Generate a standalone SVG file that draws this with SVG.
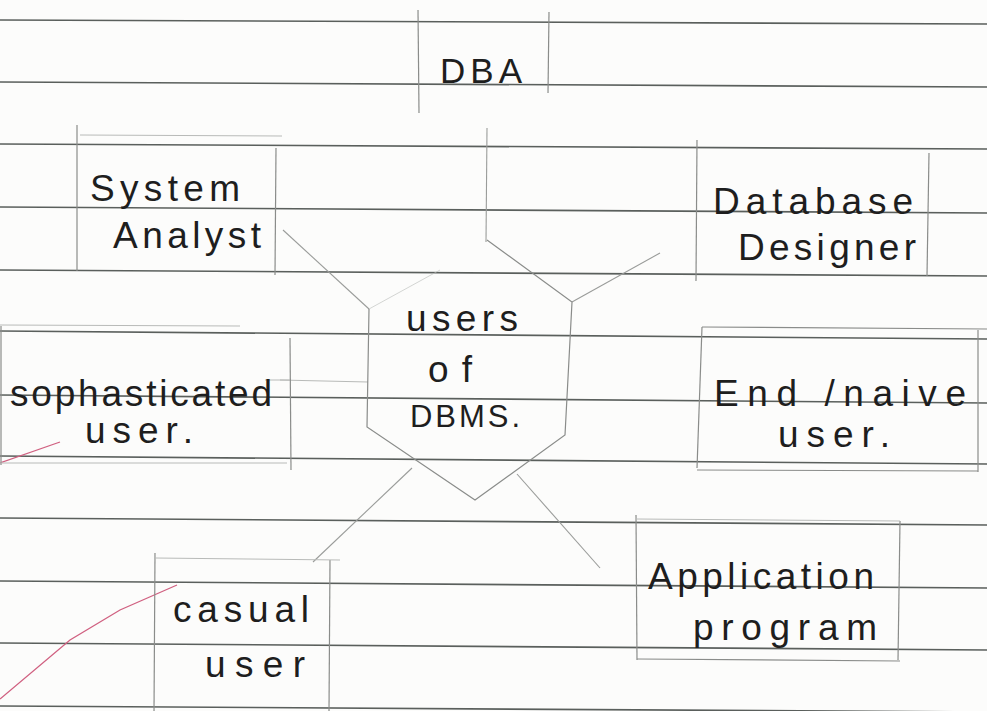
<svg xmlns="http://www.w3.org/2000/svg" width="987" height="711" viewBox="0 0 987 711">
<defs>
<style>
.paper{fill:#fcfcfb}
.rule{stroke:#5a5f5c;stroke-width:1.6;fill:none}
.box{stroke:#8a8c8a;stroke-width:1.2;fill:none}
.faint{stroke:#b8bab8;stroke-width:1;fill:none}
.conn{stroke:#9a9c9a;stroke-width:1.1;fill:none}
.pink{stroke:#d06080;stroke-width:1.3;fill:none}
.t{font-family:"Liberation Sans","DejaVu Sans",sans-serif;fill:#1e1e1e;font-size:37px}
</style>
</defs>
<rect class="paper" x="0" y="0" width="987" height="711"/>
<g id="ruled-lines">
<line class="rule" x1="0" y1="20" x2="987" y2="24"/>
<line class="rule" x1="0" y1="82" x2="987" y2="87"/>
<line class="rule" x1="0" y1="144" x2="987" y2="149"/>
<line class="rule" x1="0" y1="207" x2="987" y2="213"/>
<line class="rule" x1="0" y1="270" x2="987" y2="276"/>
<line class="rule" x1="0" y1="331" x2="987" y2="339"/>
<line class="rule" x1="0" y1="395" x2="987" y2="403"/>
<line class="rule" x1="0" y1="456" x2="987" y2="464"/>
<line class="rule" x1="0" y1="518" x2="987" y2="525"/>
<line class="rule" x1="0" y1="581" x2="987" y2="588"/>
<line class="rule" x1="0" y1="643" x2="987" y2="650"/>
<line class="rule" x1="0" y1="706" x2="987" y2="712"/>
</g>
<g id="margin">
<line class="pink" x1="0" y1="463" x2="60" y2="442"/>
<polyline class="pink" points="0,699 70,640 120,610 177,585"/>
</g>
<g id="connectors">
<line class="conn" x1="487" y1="128" x2="486" y2="242"/>
<line class="conn" x1="283" y1="230" x2="369" y2="309"/>
<line class="faint" x1="369" y1="309" x2="440" y2="270" stroke-opacity="0.6"/>
<line class="conn" x1="572" y1="302" x2="660" y2="253"/>
<line class="faint" x1="280" y1="380" x2="368" y2="382"/>
<line class="conn" x1="412" y1="468" x2="313" y2="562"/>
<line class="conn" x1="517" y1="474" x2="600" y2="568"/>
</g>
<g id="node-dba">
<line class="box" x1="418" y1="10" x2="419" y2="113"/>
<line class="box" x1="549" y1="12" x2="548" y2="93"/>
<text class="t" x="440" y="83" textLength="82" lengthAdjust="spacing" style="font-size:35px">DBA</text>
</g>
<g id="node-users-of-dbms">
<polyline class="box" points="487,240 572,302 565,435 475,500 367,427 369,309"/>
<text class="t" x="406" y="331" textLength="112" lengthAdjust="spacing">users</text>
<text class="t" x="428" y="382" textLength="44" lengthAdjust="spacing">of</text>
<text class="t" x="410" y="427" textLength="110" lengthAdjust="spacing" style="font-size:31px">DBMS.</text>
</g>
<g id="node-system-analyst">
<line class="box" x1="77" y1="125" x2="77" y2="271"/>
<line class="box" x1="276" y1="148" x2="275" y2="275"/>
<line class="faint" x1="80" y1="135" x2="282" y2="136"/>
<text class="t" x="90" y="201" textLength="150" lengthAdjust="spacing">System</text>
<text class="t" x="113" y="248" textLength="148" lengthAdjust="spacing">Analyst</text>
</g>
<g id="node-database-designer">
<line class="box" x1="697" y1="140" x2="696" y2="281"/>
<line class="box" x1="929" y1="153" x2="927" y2="276"/>
<text class="t" x="713" y="214" textLength="200" lengthAdjust="spacing">Database</text>
<text class="t" x="738" y="260" textLength="178" lengthAdjust="spacing">Designer</text>
</g>
<g id="node-sophisticated-user">
<line class="box" x1="1" y1="326" x2="1" y2="465"/>
<line class="box" x1="290" y1="338" x2="291" y2="470"/>
<line class="faint" x1="0" y1="325" x2="240" y2="326"/>
<line class="faint" x1="0" y1="463" x2="287" y2="463"/>
<line class="faint" x1="265" y1="380" x2="290" y2="380"/>
<text class="t" x="10" y="406" textLength="262" lengthAdjust="spacing">sophasticated</text>
<text class="t" x="85" y="443" textLength="108" lengthAdjust="spacing">user.</text>
</g>
<g id="node-end-naive-user">
<line class="box" x1="702" y1="327" x2="697" y2="468"/>
<line class="box" x1="702" y1="327" x2="987" y2="329"/>
<line class="box" x1="978" y1="330" x2="978" y2="472"/>
<line class="box" x1="697" y1="470" x2="978" y2="471"/>
<text class="t" x="714" y="406" textLength="252" lengthAdjust="spacing">End /naive</text>
<text class="t" x="778" y="447" textLength="112" lengthAdjust="spacing">user.</text>
</g>
<g id="node-casual-user">
<line class="box" x1="155" y1="553" x2="154" y2="711"/>
<line class="box" x1="330" y1="560" x2="329" y2="711"/>
<line class="faint" x1="155" y1="558" x2="340" y2="560"/>
<text class="t" x="173" y="622" textLength="136" lengthAdjust="spacing">casual</text>
<text class="t" x="205" y="677" textLength="100" lengthAdjust="spacing">user</text>
</g>
<g id="node-application-program">
<line class="box" x1="636" y1="515" x2="637" y2="660"/>
<line class="box" x1="900" y1="521" x2="898" y2="660"/>
<line class="faint" x1="636" y1="519" x2="900" y2="521"/>
<line class="box" x1="637" y1="659" x2="900" y2="661"/>
<text class="t" x="648" y="589" textLength="226" lengthAdjust="spacing">Application</text>
<text class="t" x="693" y="640" textLength="184" lengthAdjust="spacing">program</text>
</g>
</svg>
